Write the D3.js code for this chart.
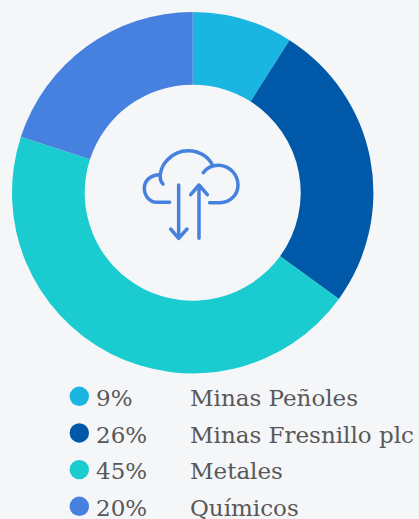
<!DOCTYPE html>
<html><head><meta charset="utf-8">
<script src="https://cdn.jsdelivr.net/npm/d3@7"></script>
<style>html,body{margin:0;padding:0;background:#f5f6f8;overflow:hidden}svg{display:block}</style>
</head><body><svg id="c" width="419" height="519"></svg>
<script>
const labels=["Minas Peñoles","Minas Fresnillo plc","Metales","Químicos"];
const values=[9,26,45,20];
const colors=["#1ab5e0","#0059a8","#1accd0","#4681e0"];
const svg=d3.select("#c");
const g=svg.append("g").attr("transform","translate(192.7,192.7)");
const pie=d3.pie().sort(null);
const arc=d3.arc().innerRadius(108).outerRadius(180.7);
g.selectAll("path").data(pie(values)).join("path").attr("d",arc).attr("fill",(d,i)=>colors[i]);
const icon=svg.append("g").attr("transform","translate(130,130) scale(0.3333)")
 .attr("fill","none").attr("stroke","#4681e0").attr("stroke-width",10.5).attr("stroke-linecap","round").attr("stroke-linejoin","round");
["M119 217H82C58 217 43 197 43 175C43 152 62 134 90 134",
 "M99 162C84 148 90 112 112 90C130 70 152 62 175 62C208 62 235 80 248 106",
 "M220 128C232 112 250 105 268 106C300 108 324 135 324 165C324 195 300 218 270 218H239",
 "M146 165V325M122 297L146 325L171 297",
 "M207 325V165M182 194L207 165L232 194"
].forEach(d=>icon.append("path").attr("d",d));
const y=d3.scalePoint().domain(labels).range([397,507]);
const font="'DejaVu Serif',serif";
labels.forEach((l,i)=>{
 const yy=y(l);
 svg.append("circle").attr("cx",79.3).attr("cy",yy-0.7).attr("r",9.7).attr("fill",colors[i]);
 svg.append("text").attr("x",96).attr("y",yy+9).text(values[i]+"%").attr("font-family",font).attr("font-size",23).attr("fill","#585858");
 svg.append("text").attr("x",190).attr("y",yy+9).text(l).attr("font-family",font).attr("font-size",23).attr("fill","#585858");
});
</script></body></html>
